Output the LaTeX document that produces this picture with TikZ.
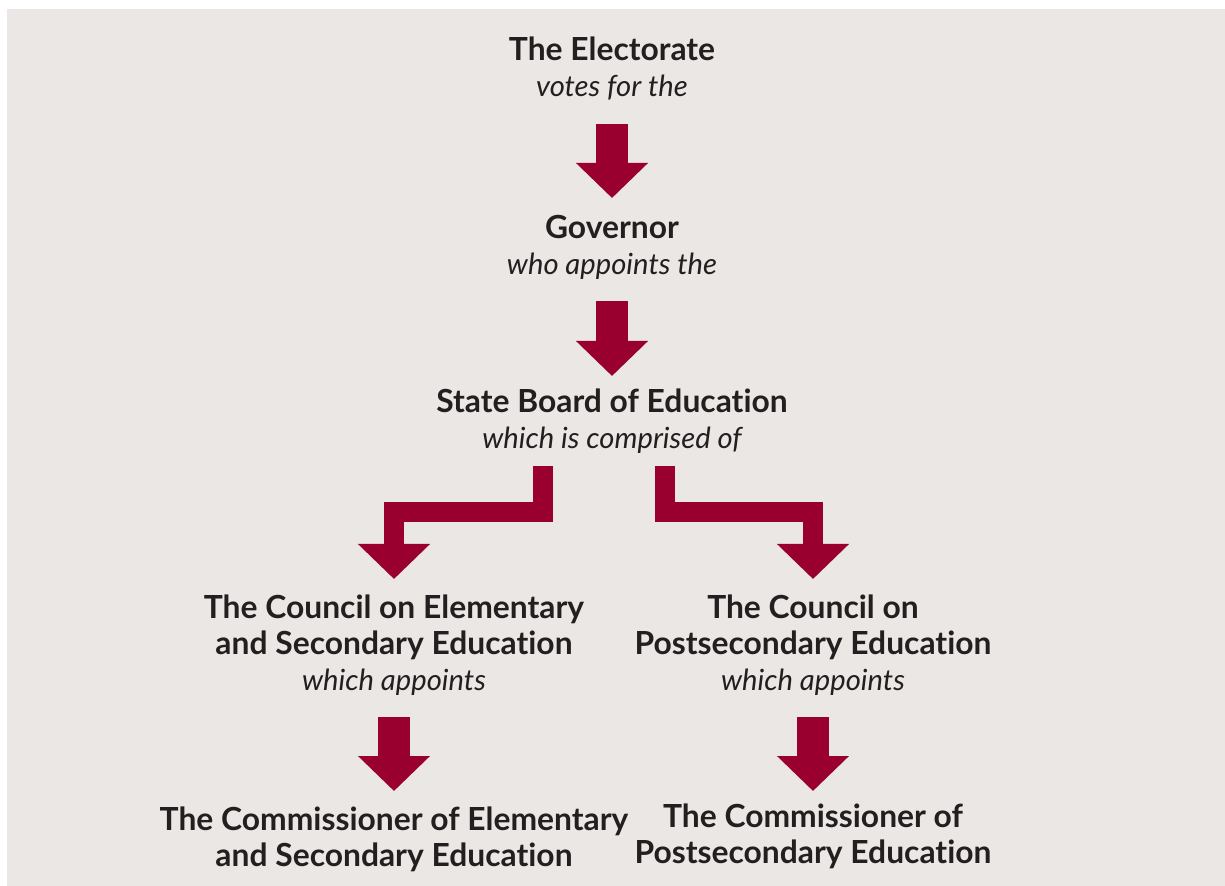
\documentclass[tikz,border=0pt]{standalone}
\usepackage{fontspec}
\setmainfont{Lato}[Ligatures=NoCommon]
\usetikzlibrary{positioning,calc,arrows.meta}
\definecolor{crimson}{HTML}{990030}
\definecolor{paper}{HTML}{EBE7E4}
\definecolor{ink}{HTML}{231F20}
\newcommand{\duty}[1]{{\fontsize{14.6}{18}\selectfont\mdseries\itshape #1}}

\begin{document}
\begin{tikzpicture}[on grid,
   every node/.style={align=center, text=ink, inner sep=0pt, font=\fontsize{15.9}{18}\selectfont\bfseries},
   fatarrow/.style={crimson, line width=16pt, -{Triangle[width=35pt,length=17.5pt]}},
   bentarrow/.style={crimson, line width=10pt, -{Triangle[width=35pt,length=17.5pt]}}]
   \useasboundingbox (0,0) rectangle (612.5pt,-443pt);
   \fill[paper] (3.5pt,-4.5pt) rectangle (612.5pt,-443pt);

   \node (electorate) at (306pt,-34.5pt)
   {The Electorate\\ \duty{votes for the}};
   \node (governor) [below=89pt of electorate]
   {Governor\\ \duty{who appoints the}};
   \node (board) [below=87.25pt of governor]
   {State Board of Education\\ \duty{which is comprised of}};
   \node (councilES) [below left=111.75pt and 109pt of board]
   {The Council on Elementary\\ and Secondary Education\\ \duty{which appoints}};
   \node (councilPS) [below right=111.75pt and 100.5pt of board]
   {The Council on\\ Postsecondary Education\\ \duty{which appoints}};
   \node (commES) [below=97.25pt of councilES]
   {The Commissioner of Elementary\\ and Secondary Education};
   \node (commPS) [below=95.75pt of councilPS]
   {The Commissioner of\\ Postsecondary Education};

   \path[fatarrow]
     (electorate.center) edge[shorten <=27.5pt, shorten >=24.5pt] (governor.center)
     (governor.center) edge[shorten <=27pt, shorten >=22.75pt] (board.center)
     (councilES.center) edge[shorten <=36pt, shorten >=24.25pt] (commES.center)
     (councilPS.center) edge[shorten <=36pt, shorten >=22.75pt] (commPS.center);
   \draw[bentarrow, shorten >=33pt]
     ($(board.center)+(-34.5pt,-22.25pt)$) -- ++(0,-23pt) -| (councilES.center);
   \draw[bentarrow, shorten >=33pt]
     ($(board.center)+(26.5pt,-22.25pt)$) -- ++(0,-23pt) -| (councilPS.center);
\end{tikzpicture}
\end{document}
